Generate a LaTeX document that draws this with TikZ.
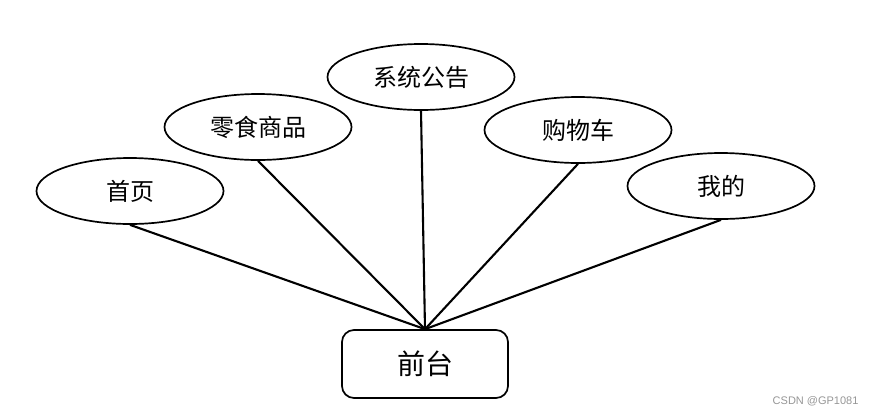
\documentclass[tikz,border=0pt]{standalone}
\usepackage{fontspec}
\usepackage{xcolor}
\usetikzlibrary{shapes.geometric}
\newfontfamily\cjk{Noto Sans CJK SC}
\setsansfont{Liberation Sans}
\definecolor{MarkGray}{RGB}{150,150,150}

\begin{document}
\begin{tikzpicture}[x=1pt,y=-1pt,
    part/.style={ellipse,draw,line width=1.7pt,minimum width=187pt,
                 minimum height=66pt,inner sep=0pt,font=\cjk\fontsize{24}{28}\selectfont},
    root/.style={draw,line width=1.7pt,rounded corners=12pt,minimum width=166pt,
                 minimum height=68pt,inner sep=0pt,font=\cjk\fontsize{28}{32}\selectfont},
    link/.style={line width=2.1pt}]
  \useasboundingbox (0,0) rectangle (877,416);
  % front end and its modules
  \node[root] (front) at (425,364) {前台};
  \node[part] (home)   at (130,191) {首页};
  \node[part] (snacks) at (258,127) {零食商品};
  \node[part] (notice) at (421,77)  {系统公告};
  \node[part] (cart)   at (578,130) {购物车};
  \node[part] (mine)   at (721,186) {我的};
  \foreach \m in {home,snacks,notice,cart,mine}
    \draw[link] (front.north) -- (\m.south);
  \node[font=\sffamily\fontsize{11}{13}\selectfont,text=MarkGray,anchor=east] (mark)
    at (862,401) {CSDN @GP1081};
\end{tikzpicture}
\end{document}
